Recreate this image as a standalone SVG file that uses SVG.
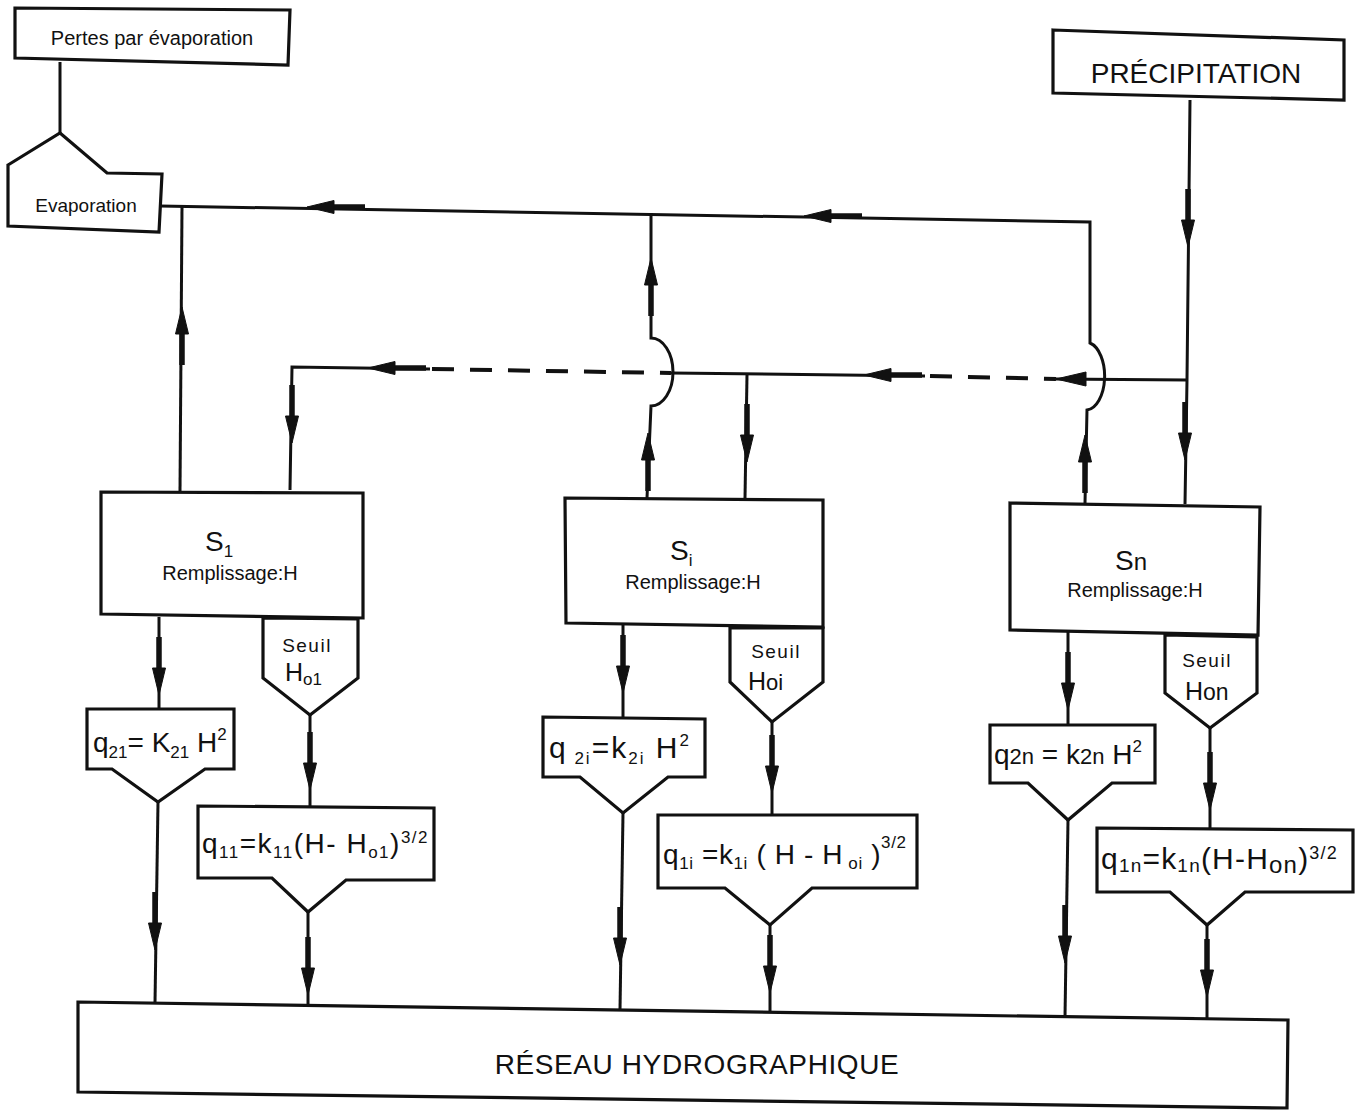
<svg xmlns="http://www.w3.org/2000/svg" xmlns:xlink="http://www.w3.org/1999/xlink" width="1364" height="1112" viewBox="0 0 1364 1112">
  <style>
    .box { fill: #ffffff; stroke: #111111; stroke-width: 3.2; stroke-linejoin: miter; }
    .wire { fill: none; stroke: #111111; stroke-width: 3; stroke-linejoin: miter; }
    .dash { fill: none; stroke: #111111; stroke-width: 4; stroke-dasharray: 22 16; }
    .arr { fill: #111111; stroke: #111111; }
    text { font-family: "Liberation Sans", Arial, sans-serif; fill: #111111; }
    .lbl { font-size: 20px; }
    .big { font-size: 28px; }
    .mid { font-size: 28px; }
    .sub { font-size: 17px; }
    .seuil { font-size: 19px; letter-spacing: 1.5px; }
    .cap { font-size: 28px; letter-spacing: 0.6px; }
  </style>
  <defs>
    <!-- flow arrow pointing down, tip at origin: thick shaft + narrow head -->
    <g id="arrow" class="arr">
      <path d="M0,-58 L0,-24" stroke-width="5.5" fill="none"/>
      <path d="M0,0 L-6.5,-27 L6.5,-27 Z" stroke-width="1"/>
    </g>
    <g id="head" class="arr">
      <path d="M0,0 L-7,-30 L7,-30 Z" stroke-width="1"/>
    </g>
  </defs>

  <rect x="0" y="0" width="1364" height="1112" fill="#ffffff"/>

  <!-- connectors -->
  <g id="connectors">
    <path class="wire" d="M60,62 L60,133"/>
    <!-- evaporation return line -->
    <path class="wire" d="M160,206 L1090,222 L1090,343 A19,34 0 0 1 1087,410 L1085,503"/>
    <path class="wire" d="M182,207 L180,491"/>
    <path class="wire" d="M651,213 L651,338 A22,34 0 0 1 651,406 L647,498"/>
    <!-- overflow transfer line -->
    <path class="wire" d="M290,490 L292,367 L430,369"/>
    <path class="dash" d="M432,369 L671,373"/>
    <path class="wire" d="M671,373 L925,376"/>
    <path class="dash" d="M930,376 L1056,379"/>
    <path class="wire" d="M1056,379 L1187,380"/>
    <path class="wire" d="M747,375 L745,498"/>
    <!-- precipitation input -->
    <path class="wire" d="M1190,100 L1187,380 L1185,504"/>
    <!-- store outlets -->
    <path class="wire" d="M159,617 L159,709"/>
    <path class="wire" d="M310,715 L310,806"/>
    <path class="wire" d="M623,625 L623,717"/>
    <path class="wire" d="M772,722 L772,815"/>
    <path class="wire" d="M1068,632 L1068,725"/>
    <path class="wire" d="M1210,728 L1210,829"/>
    <!-- to the network -->
    <path class="wire" d="M158,802 L155,1003"/>
    <path class="wire" d="M308,912 L308,1004"/>
    <path class="wire" d="M623,813 L620,1010"/>
    <path class="wire" d="M770,925 L770,1012"/>
    <path class="wire" d="M1068,820 L1065,1017"/>
    <path class="wire" d="M1207,925 L1207,1020"/>

    <!-- arrowheads -->
    <use xlink:href="#arrow" transform="translate(307,207) rotate(90)"/>
    <use xlink:href="#arrow" transform="translate(804,216) rotate(90)"/>
    <use xlink:href="#arrow" transform="translate(368,368) rotate(90)"/>
    <use xlink:href="#arrow" transform="translate(864,375) rotate(90)"/>
    <use xlink:href="#head" transform="translate(1056,379) rotate(90)"/>
    <use xlink:href="#arrow" transform="translate(182,307) rotate(180)"/>
    <use xlink:href="#arrow" transform="translate(651,258) rotate(180)"/>
    <use xlink:href="#arrow" transform="translate(648,433) rotate(180)"/>
    <use xlink:href="#arrow" transform="translate(1085,435) rotate(180)"/>
    <use xlink:href="#arrow" transform="translate(292,443)"/>
    <use xlink:href="#arrow" transform="translate(747,462)"/>
    <use xlink:href="#arrow" transform="translate(1188,247)"/>
    <use xlink:href="#arrow" transform="translate(1185,460)"/>
    <use xlink:href="#arrow" transform="translate(159,695)"/>
    <use xlink:href="#arrow" transform="translate(623,693)"/>
    <use xlink:href="#arrow" transform="translate(1068,710)"/>
    <use xlink:href="#arrow" transform="translate(310,790)"/>
    <use xlink:href="#arrow" transform="translate(772,793)"/>
    <use xlink:href="#arrow" transform="translate(1210,810)"/>
    <use xlink:href="#arrow" transform="translate(155,950)"/>
    <use xlink:href="#arrow" transform="translate(308,995)"/>
    <use xlink:href="#arrow" transform="translate(620,965)"/>
    <use xlink:href="#arrow" transform="translate(770,993)"/>
    <use xlink:href="#arrow" transform="translate(1065,963)"/>
    <use xlink:href="#arrow" transform="translate(1207,997)"/>
  </g>

  <!-- sources -->
  <g id="pertes">
    <polygon class="box" points="15,8 290,10 288,65 15,58"/>
    <text class="lbl" x="152" y="45" text-anchor="middle">Pertes par évaporation</text>
  </g>
  <g id="evaporation">
    <polygon class="box" points="8,165 60,133 107,173 162,174 159,232 8,226"/>
    <text x="86" y="212" text-anchor="middle" font-size="19">Evaporation</text>
  </g>
  <g id="precipitation">
    <polygon class="box" points="1053,30 1344,40 1344,100 1053,93"/>
    <text x="1196" y="83" text-anchor="middle" font-size="28">PRÉCIPITATION</text>
  </g>

  <!-- store S1 -->
  <g id="s1">
    <polygon class="box" points="101,492 363,493 363,618 101,614"/>
    <text class="big" x="205" y="551">S<tspan class="sub" dy="6">1</tspan></text>
    <text class="lbl" x="230" y="580" text-anchor="middle">Remplissage:H</text>
  </g>
  <g id="seuil1">
    <polygon class="box" points="263,618 358,619 358,678 310,715 263,678"/>
    <text class="seuil" x="307" y="652" text-anchor="middle">Seuil</text>
    <text x="285" y="681" font-size="25">H<tspan font-size="17" dy="4">o1</tspan></text>
  </g>
  <g id="q21">
    <polygon class="box" points="87,709 234,709 234,769 205,769 158,802 112,769 87,769"/>
    <text class="mid" x="93" y="752">q<tspan class="sub" dy="6">21</tspan><tspan dy="-6">= K</tspan><tspan class="sub" dy="6">21</tspan><tspan dy="-6"> H</tspan><tspan class="sub" dy="-12">2</tspan></text>
  </g>
  <g id="q11">
    <polygon class="box" points="198,806 434,808 434,880 346,880 308,912 272,878 198,878"/>
    <text class="mid" x="202" y="853" letter-spacing="1.5">q<tspan class="sub" dy="5">11</tspan><tspan dy="-5">=k</tspan><tspan class="sub" dy="5">11</tspan><tspan dy="-5">(H- H</tspan><tspan class="sub" dy="5">o1</tspan><tspan dy="-5">)</tspan><tspan class="sub" dy="-10">3/2</tspan></text>
  </g>

  <!-- store Si -->
  <g id="si">
    <polygon class="box" points="565,498 823,500 823,627 566,623"/>
    <text class="big" x="670" y="560">S<tspan class="sub" dy="6">i</tspan></text>
    <text class="lbl" x="693" y="589" text-anchor="middle">Remplissage:H</text>
  </g>
  <g id="seuili">
    <polygon class="box" points="730,628 823,628 823,682 772,722 730,682"/>
    <text class="seuil" x="776" y="658" text-anchor="middle">Seuil</text>
    <text x="748" y="690" font-size="25">H<tspan font-size="22">oi</tspan></text>
  </g>
  <g id="q2i">
    <polygon class="box" points="543,717 705,719 705,777 668,777 623,813 580,777 543,777"/>
    <text x="549" y="758" font-size="30" letter-spacing="2">q<tspan class="sub" dy="6"> 2i</tspan><tspan dy="-6">=k</tspan><tspan class="sub" dy="6">2i</tspan><tspan dy="-6"> H</tspan><tspan class="sub" dy="-12">2</tspan></text>
  </g>
  <g id="q1i">
    <polygon class="box" points="658,815 917,815 917,888 812,888 770,925 725,888 658,888"/>
    <text class="mid" x="663" y="864" letter-spacing="0.6">q<tspan class="sub" dy="5">1i</tspan><tspan dy="-5"> =k</tspan><tspan class="sub" dy="5">1i</tspan><tspan dy="-5"> ( H - H</tspan><tspan class="sub" dy="5"> oi</tspan><tspan dy="-5"> )</tspan><tspan class="sub" dy="-16">3/2</tspan></text>
  </g>

  <!-- store Sn -->
  <g id="sn">
    <polygon class="box" points="1010,503 1260,507 1258,635 1010,630"/>
    <text class="big" x="1115" y="570">S<tspan font-size="24">n</tspan></text>
    <text class="lbl" x="1135" y="597" text-anchor="middle">Remplissage:H</text>
  </g>
  <g id="seuiln">
    <polygon class="box" points="1165,635 1257,637 1257,693 1210,728 1165,693"/>
    <text class="seuil" x="1207" y="667" text-anchor="middle">Seuil</text>
    <text x="1185" y="700" font-size="25">H<tspan font-size="23">on</tspan></text>
  </g>
  <g id="q2n">
    <polygon class="box" points="990,725 1155,725 1155,783 1112,783 1068,820 1028,783 990,783"/>
    <text class="mid" x="994" y="764">q<tspan font-size="22">2n</tspan> = k<tspan font-size="22">2n</tspan> H<tspan class="sub" dy="-12">2</tspan></text>
  </g>
  <g id="q1n">
    <polygon class="box" points="1097,828 1353,830 1353,892 1245,892 1207,925 1170,892 1097,892"/>
    <text x="1101" y="869" font-size="30" letter-spacing="1.2">q<tspan font-size="19" dy="3">1n</tspan><tspan dy="-3">=k</tspan><tspan font-size="19" dy="3">1n</tspan><tspan dy="-3">(H-H</tspan><tspan font-size="24" dy="4">on</tspan><tspan dy="-4">)</tspan><tspan font-size="18" dy="-10">3/2</tspan></text>
  </g>

  <!-- drainage network -->
  <g id="reseau">
    <polygon class="box" points="78,1002 1288,1020 1287,1108 78,1092"/>
    <text class="cap" x="697" y="1074" text-anchor="middle">RÉSEAU HYDROGRAPHIQUE</text>
  </g>
</svg>
